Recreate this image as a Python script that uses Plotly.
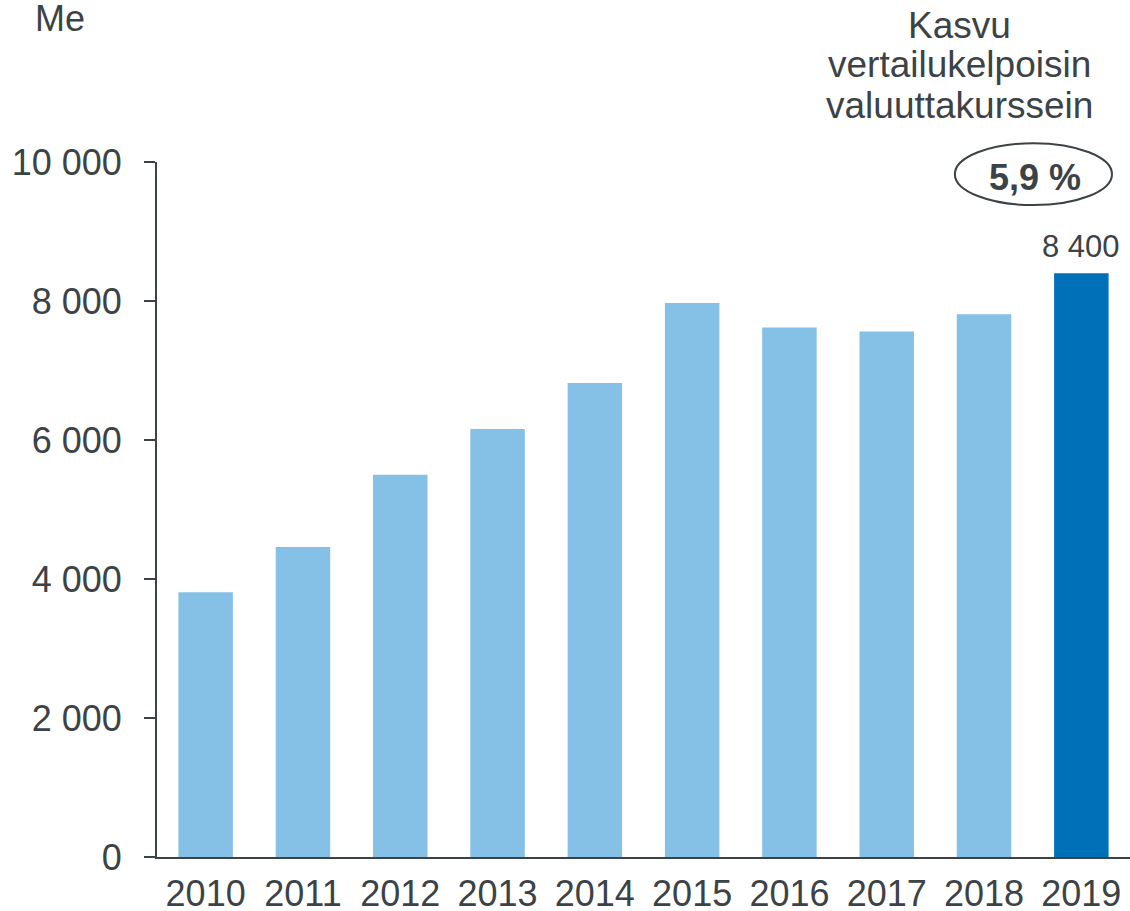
import plotly.graph_objects as go

years = ["2010", "2011", "2012", "2013", "2014", "2015", "2016", "2017", "2018", "2019"]
sales = [3810, 4460, 5500, 6160, 6820, 7970, 7620, 7560, 7810, 8400]
y_ticks = [0, 2000, 4000, 6000, 8000, 10000]
y_tick_labels = ["0", "2 000", "4 000", "6 000", "8 000", "10 000"]
growth_lines = ["Kasvu", "vertailukelpoisin", "valuuttakurssein"]
growth_value = "5,9 %"
last_label = "8 400"

TEXT = "#3c4347"
LIGHT = "#85c1e6"
DARK = "#0070b8"
FONT = "Liberation Sans, Arial, sans-serif"

bar_colors = [LIGHT] * (len(years) - 1) + [DARK]

fig = go.Figure(
    go.Bar(x=years, y=sales, marker=dict(color=bar_colors, line_width=0), width=0.56)
)

fig.update_layout(
    width=1130,
    height=911,
    margin=dict(l=157, r=0, t=162, b=54),
    plot_bgcolor="white",
    paper_bgcolor="white",
    font=dict(family=FONT, size=36, color=TEXT),
    showlegend=False,
)

fig.update_xaxes(
    type="category",
    range=[-0.5, 9.5],
    automargin=False,
    showline=True,
    linecolor=TEXT,
    linewidth=2,
    ticks="",
    ticklabelstandoff=4,
    showgrid=False,
    tickfont=dict(size=36, color=TEXT),
)
fig.update_yaxes(
    range=[0, 10000],
    automargin=False,
    tickvals=y_ticks,
    ticktext=y_tick_labels,
    showline=True,
    linecolor=TEXT,
    linewidth=2,
    ticks="outside",
    ticklen=11,
    tickwidth=2,
    tickcolor=TEXT,
    showgrid=False,
    zeroline=False,
    ticklabelstandoff=15,
    tickfont=dict(size=36, color=TEXT),
)

# unit label
fig.add_annotation(
    text="Me", xref="paper", yref="paper", x=-0.1274, y=1.2065,
    xanchor="left", yanchor="middle", showarrow=False,
    font=dict(size=36, color=TEXT),
)

# growth text, one line per annotation to control spacing
for txt, yp in zip(growth_lines, [1.197, 1.1396, 1.082]):
    fig.add_annotation(
        text=txt, xref="paper", yref="paper", x=0.825, y=yp,
        xanchor="center", yanchor="middle", showarrow=False,
        font=dict(size=37, color=TEXT),
    )

fig.add_shape(
    type="circle", xref="paper", yref="paper",
    x0=0.820, x1=0.9815, y0=0.938, y1=1.027,
    line=dict(color=TEXT, width=2),
)
fig.add_annotation(
    text="<b>" + growth_value + "</b>", xref="paper", yref="paper", x=0.902, y=0.9777,
    xanchor="center", yanchor="middle", showarrow=False,
    font=dict(size=36, color=TEXT),
)

# value label on last bar
fig.add_annotation(
    text=last_label, x=len(years) - 1, y=sales[-1],
    xanchor="center", yanchor="bottom", yshift=7, showarrow=False,
    font=dict(size=31, color=TEXT),
)

# drop the default page margin so the figure sits at the window corner
fig.write_html(
    "out.html",
    config={"displayModeBar": False},
    post_script="document.body.style.margin='0';",
)
